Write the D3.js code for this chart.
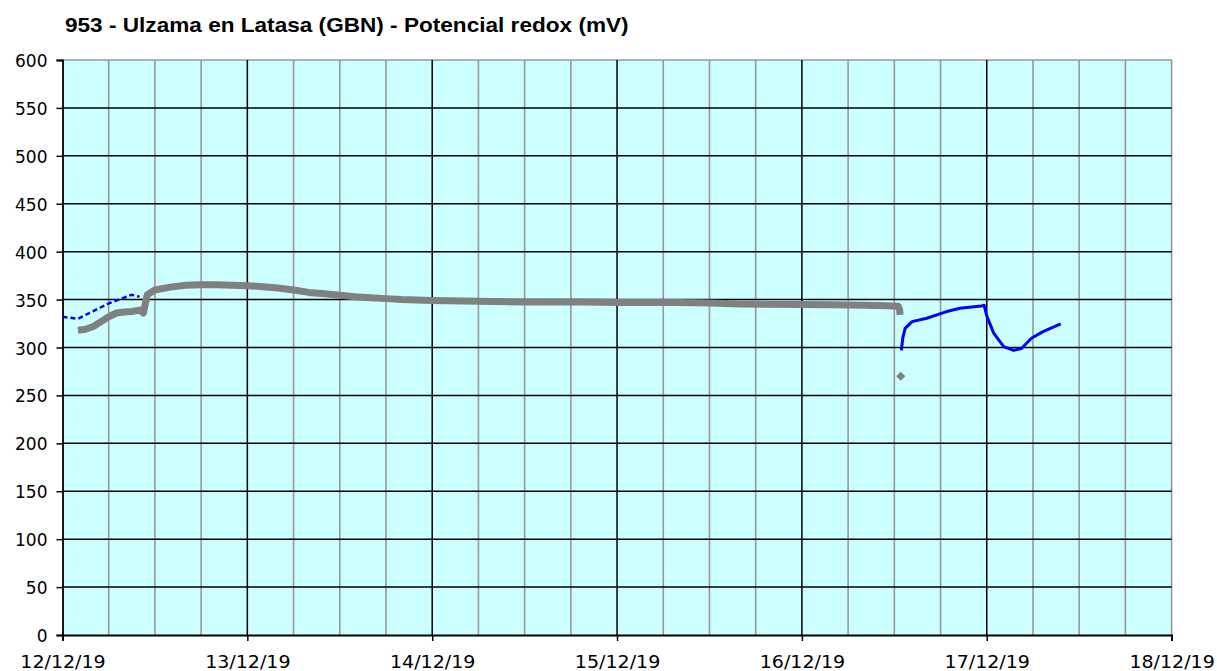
<!DOCTYPE html>
<html>
<head>
<meta charset="utf-8">
<script src="https://cdn.jsdelivr.net/npm/d3@7"></script>
<style>
  body { margin: 0; background: #fff; }
  text { font-family: "DejaVu Sans", Verdana, sans-serif; fill: #000; }
  .title { font-family: "Liberation Sans", Arial, sans-serif; font-weight: bold; }
</style>
</head>
<body>
<div id="chart"></div>
<script>
// y axis ticks and x axis day labels
var yTicks = [0, 50, 100, 150, 200, 250, 300, 350, 400, 450, 500, 550, 600];
var dayLabels = ["12/12/19", "13/12/19", "14/12/19", "15/12/19", "16/12/19", "17/12/19", "18/12/19"];

// gray series (dense markers)
var grayTimes = ["2019-12-12T02:00", "2019-12-12T03:00", "2019-12-12T04:00", "2019-12-12T05:00",
  "2019-12-12T06:00", "2019-12-12T07:00", "2019-12-12T08:00", "2019-12-12T09:00", "2019-12-12T10:00",
  "2019-12-12T10:30", "2019-12-12T11:00", "2019-12-12T12:00", "2019-12-12T14:00", "2019-12-12T16:00",
  "2019-12-12T18:00", "2019-12-12T20:00", "2019-12-12T22:00", "2019-12-13T00:00", "2019-12-13T02:00",
  "2019-12-13T04:00", "2019-12-13T06:00", "2019-12-13T08:00", "2019-12-13T10:00", "2019-12-13T12:00",
  "2019-12-13T14:00", "2019-12-13T16:00", "2019-12-13T18:00", "2019-12-13T20:00", "2019-12-13T22:00",
  "2019-12-14T00:00", "2019-12-14T04:00", "2019-12-14T08:00", "2019-12-14T12:00", "2019-12-14T16:00",
  "2019-12-14T20:00", "2019-12-15T00:00", "2019-12-15T04:00", "2019-12-15T08:00", "2019-12-15T12:00",
  "2019-12-15T16:00", "2019-12-15T20:00", "2019-12-16T00:00", "2019-12-16T04:00", "2019-12-16T08:00",
  "2019-12-16T11:00", "2019-12-16T12:30", "2019-12-16T12:40", "2019-12-16T12:45"];
var grayValues = [318, 319, 322, 327, 332, 336, 337, 337.5, 339,
  336, 355, 360, 363, 365,
  365.5, 365.5, 365, 364.5, 363.5,
  362, 360, 357.5, 356, 354.5,
  353, 352, 351, 350, 349.5,
  349, 348.5, 348, 347.5, 347.5,
  347.5, 347, 347, 347, 346.5,
  345.5, 345, 345, 344.5, 344,
  343.5, 343, 340, 334];
var grayOutlierTime = "2019-12-16T12:50";
var grayOutlierValue = 270;

// blue series, first stretch (sparse dots)
var blueTimes1 = ["2019-12-12T00:00", "2019-12-12T01:00", "2019-12-12T02:00", "2019-12-12T03:00",
  "2019-12-12T04:00", "2019-12-12T05:00", "2019-12-12T06:00", "2019-12-12T07:00", "2019-12-12T08:00",
  "2019-12-12T09:00", "2019-12-12T10:00"];
var blueValues1 = [332, 331, 330, 334, 338, 342, 346, 349, 352, 355, 353];

// blue series, second stretch
var blueTimes2 = ["2019-12-16T12:55", "2019-12-16T13:06", "2019-12-16T13:24", "2019-12-16T14:18",
  "2019-12-16T16:12", "2019-12-16T18:48", "2019-12-16T20:30", "2019-12-16T23:18", "2019-12-16T23:40",
  "2019-12-17T00:00", "2019-12-17T00:54", "2019-12-17T02:12", "2019-12-17T03:30", "2019-12-17T04:30",
  "2019-12-17T05:48", "2019-12-17T07:18", "2019-12-17T09:36"];
var blueValues2 = [297, 310, 320, 327, 330.5, 337.5, 341, 343.4, 344,
  333, 315, 301, 297, 299, 309.6, 316.6, 324.6];

var width = 1217, height = 671;
var margin = { top: 60, right: 45.4, bottom: 36, left: 62.5 };
var parse = d3.timeParse("%Y-%m-%dT%H:%M");
var start = new Date(2019, 11, 12), end = new Date(2019, 11, 18);

var x = d3.scaleTime().domain([start, end]).range([margin.left, width - margin.right]);
var y = d3.scaleLinear().domain([0, 600]).range([height - margin.bottom, margin.top]);

var svg = d3.select("#chart").append("svg")
  .attr("width", width)
  .attr("height", height);

svg.append("text")
  .attr("class", "title")
  .attr("transform", "translate(65,32) scale(1.13,1)")
  .attr("font-size", "20px")
  .text("953 - Ulzama en Latasa (GBN) - Potencial redox (mV)");

// plot background
svg.append("rect")
  .attr("x", x(start))
  .attr("y", y(600))
  .attr("width", x(end) - x(start))
  .attr("height", y(0) - y(600))
  .attr("fill", "#ccffff");

// vertical grid every 6 hours
var hours6 = d3.timeHour.every(6).range(start, end);
svg.append("g").selectAll("line")
  .data(hours6.filter(function(d) { return d.getHours() !== 0; }))
  .enter().append("line")
  .attr("x1", function(d) { return x(d); })
  .attr("x2", function(d) { return x(d); })
  .attr("y1", y(600))
  .attr("y2", y(0))
  .attr("stroke", "#999")
  .attr("stroke-width", 1.6);

// top and right border
svg.append("line")
  .attr("x1", x(start)).attr("x2", x(end))
  .attr("y1", y(600)).attr("y2", y(600))
  .attr("stroke", "#999").attr("stroke-width", 1.6);
svg.append("line")
  .attr("x1", x(end)).attr("x2", x(end))
  .attr("y1", y(600)).attr("y2", y(0))
  .attr("stroke", "#999").attr("stroke-width", 1.6);

// horizontal grid
svg.append("g").selectAll("line")
  .data(yTicks.filter(function(d) { return d > 0 && d < 600; }))
  .enter().append("line")
  .attr("x1", x(start))
  .attr("x2", x(end))
  .attr("y1", function(d) { return y(d); })
  .attr("y2", function(d) { return y(d); })
  .attr("stroke", "#000")
  .attr("stroke-width", 1.5);

// day lines
var days = d3.timeDay.range(start, d3.timeDay.offset(end, 1));
svg.append("g").selectAll("line")
  .data(days.slice(1, days.length - 1))
  .enter().append("line")
  .attr("x1", function(d) { return x(d); })
  .attr("x2", function(d) { return x(d); })
  .attr("y1", y(600))
  .attr("y2", y(0))
  .attr("stroke", "#000")
  .attr("stroke-width", 1.5);

// axes
var yAxis = d3.axisLeft(y).tickValues(yTicks).tickSize(6).tickFormat(d3.format("d"));
var yg = svg.append("g")
  .attr("transform", "translate(" + x(start) + ",0)")
  .call(yAxis);
yg.select(".domain").attr("stroke", "#000").attr("stroke-width", 1.8);
yg.selectAll(".tick line").attr("stroke", "#000").attr("stroke-width", 1.5);
yg.selectAll(".tick text")
  .attr("font-size", "17px")
  .attr("font-family", "DejaVu Sans, Verdana, sans-serif")
  .attr("fill", "#000")
  .attr("x", -15)
  .attr("dy", "6.5");

var xAxis = d3.axisBottom(x).tickValues(days).tickSize(6)
  .tickFormat(function(d, i) { return dayLabels[i]; });
var xg = svg.append("g")
  .attr("transform", "translate(0," + y(0) + ")")
  .call(xAxis);
xg.select(".domain").attr("stroke", "#000").attr("stroke-width", 1.8);
xg.selectAll(".tick line").attr("stroke", "#000").attr("stroke-width", 1.5);
xg.selectAll(".tick text")
  .attr("font-size", "17px")
  .attr("font-family", "DejaVu Sans, Verdana, sans-serif")
  .attr("fill", "#000")
  .attr("y", null)
  .attr("dy", null)
  .attr("transform", "translate(0,32.5) scale(1.12,1)");

// series
var line = d3.line()
  .x(function(d) { return x(d.t); })
  .y(function(d) { return y(d.v); });

function zipSeries(times, values) {
  return times.map(function(t, i) { return { t: parse(t), v: values[i] }; });
}

var gray = zipSeries(grayTimes, grayValues);
var blue1 = zipSeries(blueTimes1, blueValues1);
var blue2 = zipSeries(blueTimes2, blueValues2);

svg.append("path")
  .datum(gray)
  .attr("d", line)
  .attr("fill", "none")
  .attr("stroke", "#808080")
  .attr("stroke-width", 7)
  .attr("stroke-linejoin", "round");

svg.append("path")
  .attr("d", d3.symbol().type(d3.symbolSquare).size(42)())
  .attr("transform", "translate(" + x(parse(grayOutlierTime)) + "," + y(grayOutlierValue) + ") rotate(45)")
  .attr("fill", "#808080");

svg.append("path")
  .datum(blue1)
  .attr("d", line)
  .attr("fill", "none")
  .attr("stroke", "#0000ff")
  .attr("stroke-width", 2.5)
  .attr("stroke-dasharray", "5,3");

svg.append("path")
  .datum(blue2)
  .attr("d", line)
  .attr("fill", "none")
  .attr("stroke", "#0000ff")
  .attr("stroke-width", 3)
  .attr("stroke-linejoin", "round");
</script>
</body>
</html>
